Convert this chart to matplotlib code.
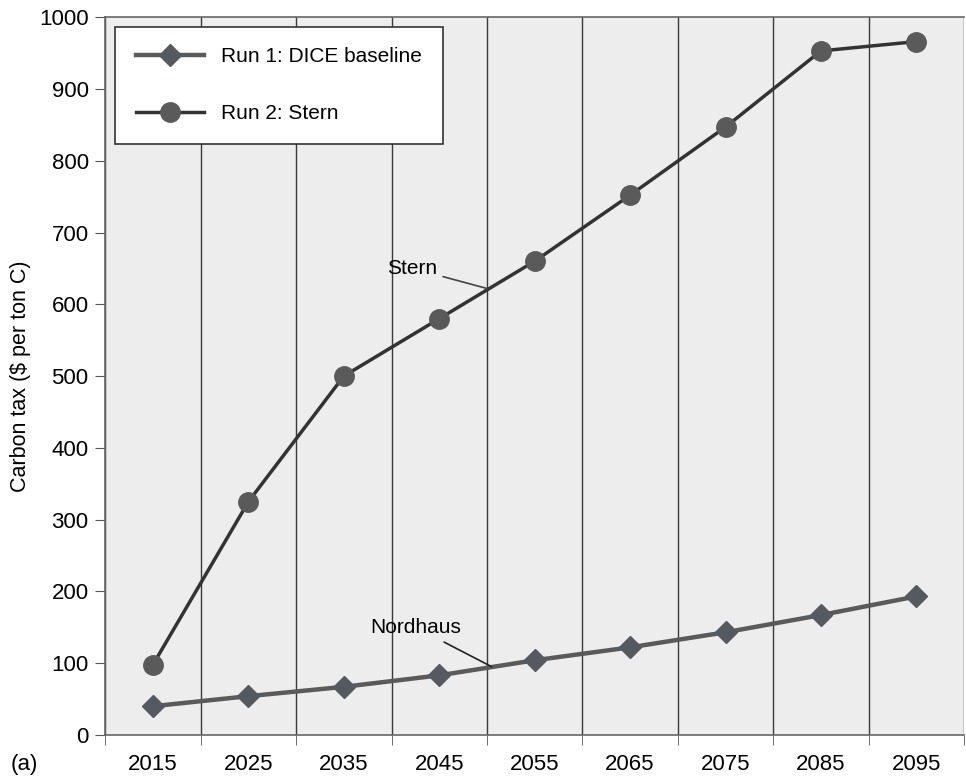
import matplotlib.pyplot as plt
import numpy as np

plt.rcParams['font.family'] = ['Liberation Sans', 'DejaVu Sans']

years = ['2015', '2025', '2035', '2045', '2055', '2065', '2075', '2085', '2095']
dice = [40, 54, 67, 83, 104, 122, 143, 167, 193]
stern = [98, 325, 500, 580, 660, 752, 847, 953, 966]

x = np.arange(len(years))

fig = plt.figure(figsize=(9.66, 7.81), dpi=100)
fig.patch.set_facecolor('white')
ax = fig.add_axes([0.109, 0.059, 0.889, 0.919])
ax.set_facecolor('#ededed')

ax.plot(x, dice, color='#5a5a5a', lw=3.2, marker='D', markersize=11,
        markerfacecolor='#555a60', markeredgecolor='#555a60',
        label='Run 1: DICE baseline', zorder=3)
ax.plot(x, stern, color='#333333', lw=2.5, marker='o', markersize=14,
        markerfacecolor='#5a5a5a', markeredgecolor='#5a5a5a',
        label='Run 2: Stern', zorder=3)

ax.set_xlim(-0.5, len(years) - 0.5)
ax.set_ylim(0, 1000)
ax.set_yticks(range(0, 1001, 100))
ax.set_xticks(x)
ax.set_xticklabels(years)
ax.set_xticks(np.arange(-0.5, len(years)), minor=True)
ax.tick_params(axis='x', which='major', length=0, pad=14, labelsize=16)
ax.tick_params(axis='x', which='minor', length=7, color='#555555')
ax.tick_params(axis='y', length=7, color='#555555', labelsize=16, pad=5)
ax.grid(axis='x', which='minor', color='#3a3a3a', lw=1)

for s in ax.spines.values():
    s.set_color('#666666')
    s.set_linewidth(1.2)
ax.spines['right'].set_visible(False)

ax.set_ylabel('Carbon tax ($ per ton C)', fontsize=15.5, labelpad=6)

ax.annotate('Stern', xy=(3.5, 622), xytext=(2.72, 650), fontsize=15,
            ha='center', va='center',
            arrowprops=dict(arrowstyle='-', color='#444444', lw=1.2, shrinkA=2, shrinkB=0))
ax.annotate('Nordhaus', xy=(3.55, 95), xytext=(2.75, 150), fontsize=15,
            ha='center', va='center',
            arrowprops=dict(arrowstyle='-', color='#222222', lw=1.2, shrinkA=4, shrinkB=0))

leg = ax.legend(loc='upper left', fontsize=15, handlelength=3.3, borderpad=1.0,
                labelspacing=1.8, borderaxespad=0.45, fancybox=False,
                facecolor='white', framealpha=1, edgecolor='#333333',
                markerscale=1.0)
leg.get_frame().set_linewidth(1.2)

fig.text(0.011, 0.014, '(a)', fontsize=16)

fig.savefig('out.png', dpi=100)
